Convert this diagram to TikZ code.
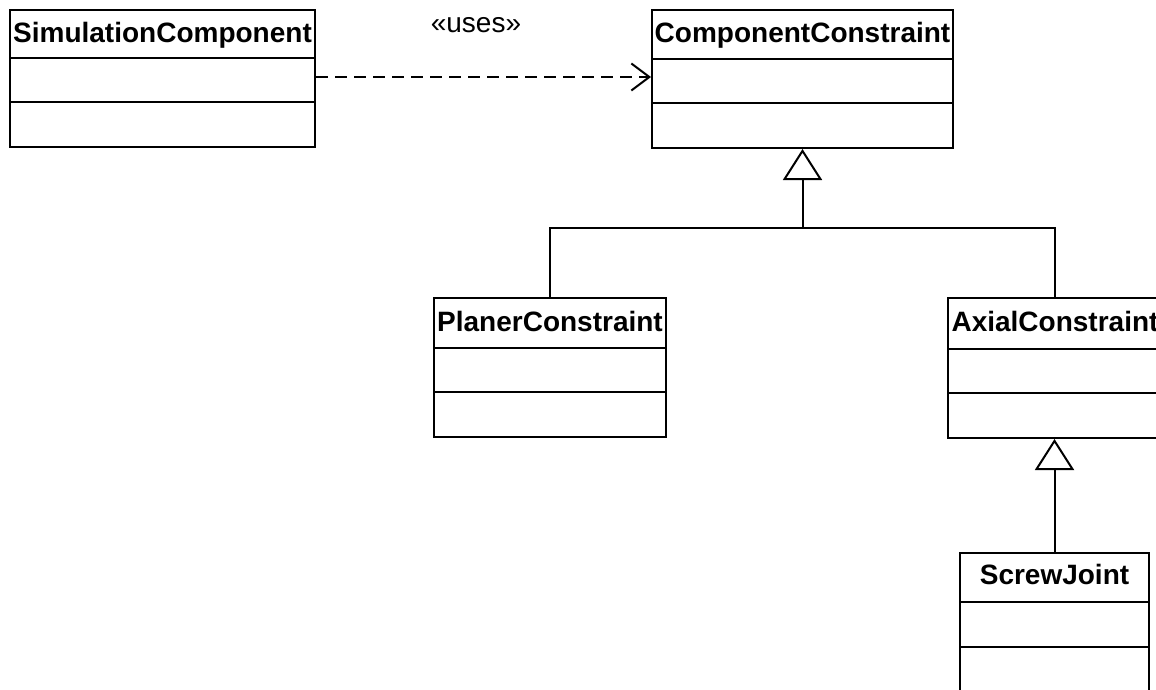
\documentclass[tikz,border=0pt]{standalone}
\usepackage{fontspec}
\setmainfont{Liberation Sans}
\usetikzlibrary{arrows.meta}
\begin{document}
\begin{tikzpicture}[x=1pt,y=-1pt,
  classbox/.style={draw=black, line width=2pt, fill=white, rectangle, inner sep=0pt, anchor=north west},
  classname/.style={font=\fontsize{28}{34}\selectfont\bfseries, anchor=base, inner sep=0pt},
  divider/.style={line width=2pt},
  link/.style={line width=2pt},
  gentip/.style={-{Triangle[open, length=31pt, width=39pt, line width=2pt, fill=white]}},
  usetip/.style={-{Straight Barb[length=18pt, width=27pt, line width=2pt]}},
  stereo/.style={font=\fontsize{28}{34}\selectfont, anchor=base, inner sep=0pt}
]
\useasboundingbox (0,0) rectangle (1156,689);
\begin{scope}
\clip (0,0) rectangle (1156,689);

% class boxes
\node[classbox, minimum width=305pt, minimum height=137pt] (sc) at (9,9) {};
\node[classbox, minimum width=301pt, minimum height=138pt] (cc) at (651,9) {};
\node[classbox, minimum width=232pt, minimum height=139pt] (pc) at (433,297) {};
\node[classbox, minimum width=214pt, minimum height=140pt] (ac) at (947,297) {};
\node[classbox, minimum width=189pt, minimum height=160pt] (sj) at (959,552) {};

% compartments
\draw[divider] (sc.west |- 0,58) -- (sc.east |- 0,58);
\draw[divider] (sc.west |- 0,102) -- (sc.east |- 0,102);
\draw[divider] (cc.west |- 0,59) -- (cc.east |- 0,59);
\draw[divider] (cc.west |- 0,103) -- (cc.east |- 0,103);
\draw[divider] (pc.west |- 0,348) -- (pc.east |- 0,348);
\draw[divider] (pc.west |- 0,392) -- (pc.east |- 0,392);
\draw[divider] (ac.west |- 0,349) -- (ac.east |- 0,349);
\draw[divider] (ac.west |- 0,393) -- (ac.east |- 0,393);
\draw[divider] (sj.west |- 0,602) -- (sj.east |- 0,602);
\draw[divider] (sj.west |- 0,647) -- (sj.east |- 0,647);

% class names
\node[classname] (sc-name) at (sc.north |- 0,42) {SimulationComponent};
\node[classname] (cc-name) at (cc.north |- 0,42) {ComponentConstraint};
\node[classname] (pc-name) at (pc.north |- 0,331) {PlanerConstraint};
\node[classname] (ac-name) at (ac.north |- 0,331) {AxialConstraint};
\node[classname] (sj-name) at (sj.north |- 0,584) {ScrewJoint};

% dependency
\coordinate (dep) at (0,77);
\draw[link, dash pattern=on 12pt off 7pt, usetip] (sc.east |- dep) -- (cc.west |- dep);
\node[stereo] (uses) at (476,32) {«uses»};

% generalizations
\coordinate (junction) at (0,228);
\draw[link] (pc.north) |- (ac.north |- junction) -- (ac.north);
\draw[link, gentip] (cc.south |- junction) -- (cc.south);
\draw[link, gentip] (sj.north) -- (sj.north |- ac.south);
\end{scope}
\end{tikzpicture}
\end{document}
